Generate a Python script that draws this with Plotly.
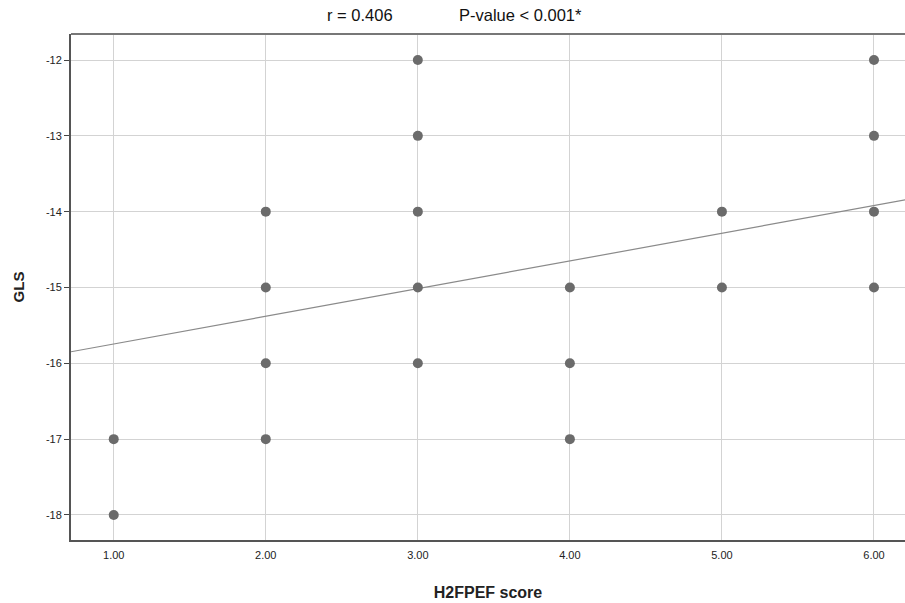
import plotly.graph_objects as go

# Data
h2fpef = [1, 1,
          2, 2, 2, 2,
          3, 3, 3, 3, 3,
          4, 4, 4,
          5, 5,
          6, 6, 6, 6]
gls = [-17, -18,
       -14, -15, -16, -17,
       -12, -13, -14, -15, -16,
       -15, -16, -17,
       -14, -15,
       -12, -13, -14, -15]
fit_x = [0.719, 6.21]
fit_intercept = -16.11
fit_slope = 0.365
fit_y = [fit_intercept + fit_slope * v for v in fit_x]

x_ticks = [1, 2, 3, 4, 5, 6]
x_ticklabels = ["1.00", "2.00", "3.00", "4.00", "5.00", "6.00"]
y_ticks = [-18, -17, -16, -15, -14, -13, -12]

FONT = "Liberation Sans, Arial, sans-serif"

fig = go.Figure()
fig.add_trace(go.Scatter(x=fit_x, y=fit_y, mode="lines",
                         line=dict(color="#8a8a8a", width=1.2),
                         hoverinfo="skip", showlegend=False))
fig.add_trace(go.Scatter(x=h2fpef, y=gls, mode="markers",
                         marker=dict(color="#6b6b6b", size=10),
                         showlegend=False))

fig.update_layout(
    width=905, height=603,
    margin=dict(l=71, r=0, t=34, b=63),
    plot_bgcolor="white", paper_bgcolor="white",
    font=dict(family=FONT, color="#222"),
    xaxis=dict(range=[0.719, 6.204], tickvals=x_ticks, ticktext=x_ticklabels,
               automargin=False,
               showgrid=True, gridcolor="#d3d3d3", gridwidth=1,
               showline=True, linecolor="#555", linewidth=2,
               ticks="", tickfont=dict(size=11, color="#222"),
               ticklabelstandoff=4,
               zeroline=False,
               title=dict(text="<b>H2FPEF score</b>", font=dict(size=16, color="#222"), standoff=27)),
    yaxis=dict(range=[-18.33, -11.657], tickvals=y_ticks,
               ticktext=[str(v) for v in y_ticks],
               automargin=False,
               showgrid=True, gridcolor="#d3d3d3", gridwidth=1,
               showline=True, linecolor="#555", linewidth=2,
               ticks="outside", ticklen=5, tickcolor="#444", tickwidth=1,
               tickfont=dict(size=11, color="#222"),
               zeroline=False,
               title=dict(text="<b>GLS</b>", font=dict(size=15, color="#222"), standoff=18)),
    shapes=[dict(type="line", xref="paper", yref="paper", x0=0, x1=1, y0=1, y1=1,
                 line=dict(color="#777", width=2))],
    annotations=[
        dict(text="r = 0.406", xref="paper", yref="paper",
             x=(325 - 71) / 834, y=1, xanchor="left", yanchor="bottom", yshift=8,
             showarrow=False, font=dict(size=16.5, color="#111")),
        dict(text="P-value < 0.001*", xref="paper", yref="paper",
             x=(457 - 71) / 834, y=1, xanchor="left", yanchor="bottom", yshift=8,
             showarrow=False, font=dict(size=16.5, color="#111")),
    ],
)

fig.write_html("out.html",
               config={"displayModeBar": False},
               post_script="document.body.style.margin='0';document.body.style.overflow='hidden';")
